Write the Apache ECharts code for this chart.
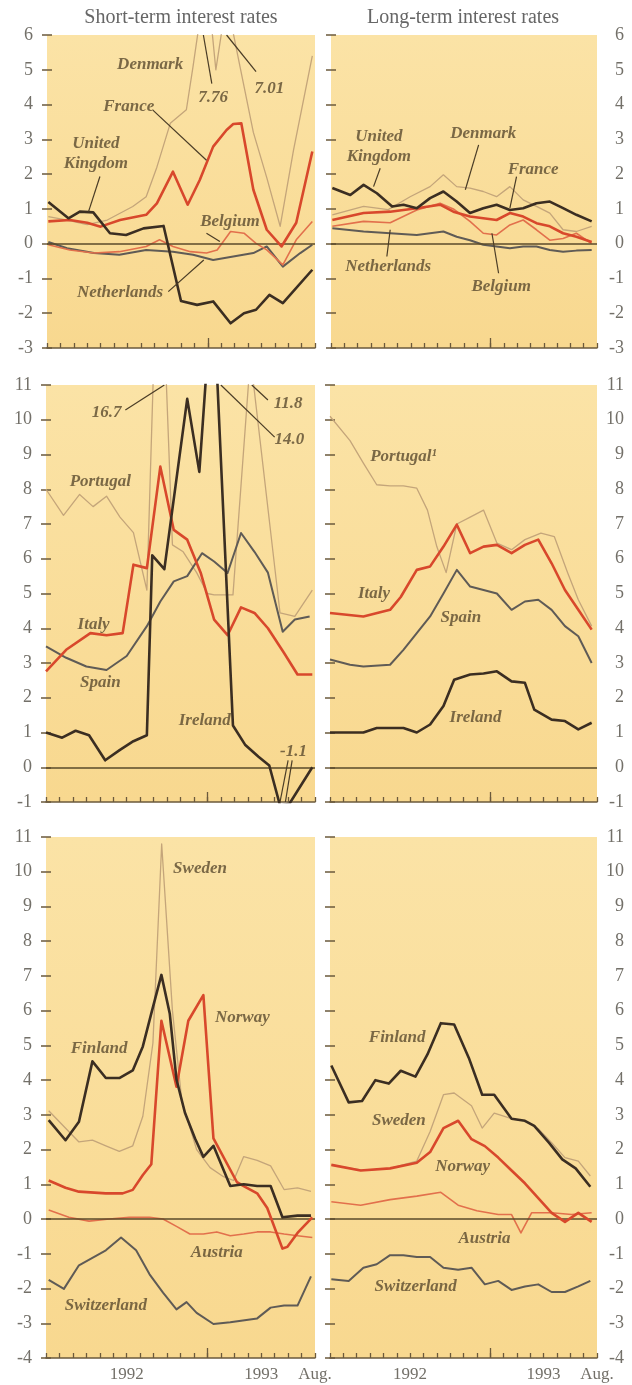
<!DOCTYPE html>
<html>
<head>
<meta charset="utf-8">
<script src="https://cdn.jsdelivr.net/npm/echarts@6/dist/echarts.min.js"></script>
<style>
html,body{margin:0;padding:0;background:#fff;}
#chart{width:632px;height:1385px;}
</style>
</head>
<body>
<div id="chart"></div>
<script>
// ---------- DATA (x = months since Jan 1992, 0..20 = Aug 1993) ----------
const xTickLabels = {6: '1992', 16: '1993', 20: 'Aug.'};
const panelTitles = ['Short-term interest rates', 'Long-term interest rates'];
const yRanges = [[-3, 6], [-3, 6], [-1, 11], [-1, 11], [-4, 11], [-4, 11]];

// Panel 1: short-term, group A
const p1_denmark_x = [0.1,1.5,3,4.5,6.4,7.4,8.2,9.2,10.4,10.9,11.9,12.6,13.4,14.4,15.4,16.4,17.4,18.4,19.8];
const p1_denmark_y = [0.78,0.68,0.55,0.68,1.07,1.35,2.2,3.46,3.85,5.1,7.76,5.0,7.01,5.1,3.2,1.9,0.5,2.7,5.4];
const p1_netherlands_x = [0.1,1.5,3.5,5.4,7.4,9.4,10.9,12.4,13.9,15.4,16.4,17.6,18.9,19.8];
const p1_netherlands_y = [0.05,-0.13,-0.27,-0.32,-0.18,-0.23,-0.32,-0.47,-0.37,-0.27,-0.08,-0.66,-0.27,-0.03];
const p1_belgium_x = [0.1,1.7,3.5,5.4,7.4,8.4,9.4,10.7,11.9,12.7,13.7,14.7,15.6,16.4,17.6,18.6,19.8];
const p1_belgium_y = [-0.03,-0.18,-0.27,-0.23,-0.08,0.11,-0.08,-0.23,-0.27,-0.18,0.35,0.3,0.01,-0.18,-0.61,0.11,0.64];
const p1_france_x = [0.1,1.7,3,4,5.45,7.4,8.2,9.4,10.5,11.4,12.4,13.4,13.9,14.5,15.4,16.4,17.5,18.6,19.8];
const p1_france_y = [0.64,0.68,0.6,0.49,0.68,0.83,1.16,2.07,1.12,1.83,2.79,3.27,3.44,3.46,1.55,0.4,-0.08,0.6,2.65];
const p1_uk_x = [0.1,1.6,2.45,3.45,4.7,5.9,7.2,8.7,10.0,11.2,12.4,13.7,14.7,15.6,16.6,17.6,19.8];
const p1_uk_y = [1.2,0.73,0.92,0.9,0.3,0.25,0.44,0.51,-1.65,-1.76,-1.66,-2.29,-2.0,-1.9,-1.47,-1.71,-0.75];

// Panel 2: long-term, group A
const p2_denmark_x = [0.1,2.45,4.3,5.95,7.45,8.45,9.45,10.45,11.45,12.45,13.45,14.45,15.45,16.45,17.45,18.45,19.6];
const p2_denmark_y = [0.83,1.07,0.98,1.35,1.64,1.98,1.64,1.6,1.5,1.35,1.64,1.26,1.07,0.88,0.4,0.35,0.5];
const p2_netherlands_x = [0.1,2.45,4.45,6.45,8.45,9.45,10.45,11.45,12.45,13.45,14.45,15.45,16.45,17.45,18.45,19.6];
const p2_netherlands_y = [0.44,0.35,0.3,0.25,0.35,0.2,0.1,-0.03,-0.08,-0.13,-0.08,-0.08,-0.18,-0.23,-0.2,-0.18];
const p2_belgium_x = [0.1,2.45,4.45,6.45,8.2,9.2,10.45,11.45,12.45,13.45,14.45,15.45,16.45,17.45,18.45,19.6];
const p2_belgium_y = [0.5,0.64,0.6,0.97,1.16,1.0,0.64,0.3,0.25,0.54,0.68,0.4,0.1,0.15,0.3,0.0];
const p2_france_x = [0.1,2.45,4.45,6.45,8.2,9.2,10.45,11.45,12.45,13.45,14.45,15.45,16.45,17.45,18.45,19.6];
const p2_france_y = [0.68,0.88,0.92,1.02,1.12,0.92,0.78,0.73,0.68,0.88,0.78,0.59,0.5,0.3,0.2,0.05];
const p2_uk_x = [0.1,1.45,2.45,3.45,4.6,5.45,6.45,7.45,8.45,9.45,10.45,11.45,12.45,13.45,14.45,15.45,16.45,17.45,18.45,19.6];
const p2_uk_y = [1.6,1.4,1.69,1.45,1.07,1.12,1.02,1.31,1.5,1.21,0.88,1.02,1.12,0.97,1.02,1.16,1.21,1.02,0.83,0.64];

// Panel 3: short-term, group B
const p3_portugal_x = [0,1.3,2.5,3.5,4.5,5.5,6.5,7.5,8.4,9.4,10.2,11.2,12.0,12.5,13.9,15.2,17.4,18.5,19.8];
const p3_portugal_y = [8.0,7.25,7.85,7.5,7.8,7.2,6.75,5.1,16.7,6.4,6.2,5.6,5.0,4.96,4.96,11.8,4.44,4.34,5.1];
const p3_spain_x = [0,1.5,3,4.5,6,7.5,8.5,9.5,10.5,11.6,12.5,13.5,14.5,15.5,16.5,17.6,18.5,19.6];
const p3_spain_y = [3.48,3.15,2.9,2.8,3.2,4.06,4.77,5.35,5.5,6.16,5.92,5.59,6.74,6.2,5.6,3.9,4.25,4.34];
const p3_italy_x = [0,1.5,3.3,4.5,5.7,6.5,7.5,8.5,9.5,10.5,11.5,12.5,13.5,14.5,15.5,16.5,17.7,18.7,19.8];
const p3_italy_y = [2.76,3.38,3.86,3.8,3.86,5.83,5.73,8.65,6.83,6.55,5.6,4.25,3.8,4.6,4.44,4.0,3.29,2.67,2.67];
const p3_ireland_x = [0,1.2,2.2,3.2,4.4,5.5,6.5,7.5,7.9,8.8,10.5,11.4,12.4,13.9,14.8,15.8,16.6,17.4,18.1,19.8];
const p3_ireland_y = [1.0,0.85,1.05,0.92,0.2,0.5,0.75,0.92,6.1,5.7,10.6,8.5,14.0,1.2,0.65,0.3,0.05,-1.1,-1.05,0.0];

// Panel 4: long-term, group B
const p4_portugal_x = [0,1.5,2.5,3.5,4.5,5.5,6.5,7.3,8.0,8.7,9.5,10.5,11.5,12.5,13.6,14.6,15.8,16.8,17.8,18.6,19.6];
const p4_portugal_y = [10.1,9.4,8.75,8.13,8.1,8.1,8.03,7.4,6.35,5.6,7.0,7.2,7.4,6.45,6.26,6.55,6.74,6.64,5.6,4.82,4.06];
const p4_spain_x = [0,1.5,2.5,4.5,5.5,6.5,7.5,8.5,9.5,10.5,11.5,12.5,13.6,14.6,15.6,16.6,17.6,18.6,19.6];
const p4_spain_y = [3.1,2.95,2.9,2.95,3.38,3.86,4.34,5.0,5.68,5.2,5.1,5.0,4.53,4.77,4.82,4.53,4.06,3.77,3.0];
const p4_italy_x = [0,2.5,4.5,5.3,6.5,7.5,8.5,9.5,10.5,11.5,12.5,13.6,14.6,15.6,16.6,17.6,18.6,19.6];
const p4_italy_y = [4.44,4.34,4.53,4.9,5.68,5.78,6.35,6.98,6.16,6.35,6.4,6.16,6.4,6.55,5.87,5.1,4.53,3.96];
const p4_ireland_x = [0,2.5,3.5,5.5,6.5,7.5,8.5,9.3,10.5,11.5,12.5,13.6,14.6,15.3,16.6,17.6,18.6,19.6];
const p4_ireland_y = [1.0,1.0,1.13,1.13,1.0,1.23,1.76,2.52,2.67,2.7,2.76,2.47,2.43,1.66,1.37,1.33,1.09,1.28];

// Panel 5: short-term, group C
const p5_sweden_x = [0.2,2.45,3.45,4.45,5.45,6.45,7.2,7.95,8.6,9.4,10.1,11.2,12.2,13.2,13.95,14.7,15.7,16.7,17.7,18.7,19.7];
const p5_sweden_y = [3.12,2.22,2.27,2.11,1.95,2.11,2.96,5.07,10.8,6.0,3.4,2.0,1.48,1.22,1.11,1.8,1.69,1.53,0.85,0.9,0.8];
const p5_switzerland_x = [0.2,1.33,2.45,3.45,4.45,5.58,6.7,7.7,8.7,9.7,10.45,11.2,12.45,13.7,15.7,16.7,17.7,18.7,19.7];
const p5_switzerland_y = [-1.75,-2.01,-1.33,-1.12,-0.9,-0.53,-0.9,-1.59,-2.12,-2.6,-2.39,-2.7,-3.02,-2.97,-2.86,-2.55,-2.49,-2.49,-1.65];
const p5_austria_x = [0.2,1.7,3.2,4.7,6.2,7.7,8.7,9.7,10.7,11.7,12.7,13.7,14.7,15.7,16.7,17.7,18.7,19.8];
const p5_austria_y = [0.26,0.05,-0.06,0.0,0.05,0.05,0.0,-0.21,-0.43,-0.43,-0.37,-0.48,-0.43,-0.37,-0.37,-0.43,-0.48,-0.53];
const p5_norway_x = [0.2,1.45,2.45,4.45,5.7,6.45,7.2,7.83,8.58,9.7,10.58,11.7,12.45,14.2,14.7,15.7,16.45,17.58,17.95,18.7,19.8];
const p5_norway_y = [1.11,0.9,0.79,0.74,0.74,0.84,1.27,1.58,5.71,3.81,5.71,6.45,2.32,1.06,0.95,0.74,0.32,-0.85,-0.8,-0.4,0.05];
const p5_finland_x = [0.2,1.45,2.45,3.45,4.45,5.45,6.45,7.2,7.83,8.58,9.2,9.7,10.33,11.08,11.7,12.45,13.7,14.7,15.7,16.7,17.58,18.7,19.7];
const p5_finland_y = [2.85,2.27,2.8,4.54,4.06,4.06,4.28,4.97,5.92,7.03,5.92,4.02,3.06,2.32,1.79,2.11,0.95,1.0,0.95,0.95,0.05,0.1,0.1];

// Panel 6: long-term, group C
const p6_sweden_x = [0.1,2.5,4.5,6.5,7.5,8.5,9.3,10.6,11.4,12.3,13.6,14.6,15.6,16.6,17.6,18.6,19.5];
const p6_sweden_y = [1.56,1.4,1.46,1.67,2.52,3.58,3.63,3.26,2.62,3.05,2.89,2.83,2.6,2.2,1.77,1.67,1.24];
const p6_switzerland_x = [0.1,1.4,2.5,3.5,4.5,5.5,6.5,7.5,8.5,9.6,10.6,11.6,12.6,13.6,14.6,15.6,16.6,17.6,18.6,19.5];
const p6_switzerland_y = [-1.73,-1.78,-1.4,-1.3,-1.04,-1.04,-1.09,-1.09,-1.4,-1.46,-1.4,-1.88,-1.78,-2.04,-1.94,-1.88,-2.1,-2.1,-1.94,-1.78];
const p6_austria_x = [0.1,2.3,4.5,6.5,8.3,9.6,11,12.6,13.6,14.3,15.1,16.6,18.1,19.6];
const p6_austria_y = [0.5,0.4,0.56,0.66,0.77,0.4,0.24,0.13,0.13,-0.4,0.18,0.18,0.13,0.18];
const p6_norway_x = [0.1,2.3,4.5,6.5,7.5,8.5,9.6,10.6,11.6,12.6,13.6,14.6,15.6,16.6,17.6,18.6,19.6];
const p6_norway_y = [1.56,1.4,1.46,1.62,1.93,2.62,2.83,2.3,2.1,1.77,1.4,1.03,0.6,0.18,-0.08,0.18,-0.08];
const p6_finland_x = [0.1,1.4,2.4,3.4,4.4,5.3,6.4,7.3,8.3,9.3,10.4,11.4,12.3,13.6,14.6,15.3,16.4,17.4,18.4,19.5];
const p6_finland_y = [4.42,3.36,3.4,4.0,3.9,4.27,4.1,4.74,5.64,5.6,4.64,3.58,3.58,2.89,2.83,2.68,2.2,1.72,1.46,0.93];

// Annotation labels: [text, month, value]
const p1_labels = [['Denmark',7.7,5.14],['7.76',12.4,4.2],['7.01',16.6,4.47],['France',6.1,3.94],['United\nKingdom',3.65,2.6],['Belgium',13.65,0.64],['Netherlands',5.45,-1.42]];
const p2_labels = [['United\nKingdom',3.6,2.8],['Denmark',11.45,3.17],['France',15.2,2.12],['Netherlands',4.3,-0.66],['Belgium',12.8,-1.23]];
const p3_labels = [['Portugal',4.04,8.22],['16.7',4.5,10.2],['11.8',18.0,10.47],['14.0',18.1,9.42],['Italy',3.54,4.1],['Spain',4.04,2.43],['Ireland',11.8,1.33],['-1.1',18.4,0.45]];
const p4_labels = [['Portugal\u00b9',5.5,8.94],['Italy',3.3,5.0],['Spain',9.8,4.3],['Ireland',10.9,1.42]];
const p5_labels = [['Sweden',11.45,10.1],['Norway',14.6,5.81],['Finland',3.95,4.92],['Austria',12.7,-0.96],['Switzerland',4.45,-2.49]];
const p6_labels = [['Finland',5.03,5.22],['Sweden',5.16,2.83],['Norway',9.94,1.51],['Austria',11.57,-0.56],['Switzerland',6.42,-1.94]];

// Leader lines: [m1, v1, m2, v2]
const p1_leaders = [[11.67,6,12.3,4.6],[13.4,6,15.6,4.95],[7.9,3.84,11.9,2.4],[3.95,1.93,3.1,0.92],[11.9,0.3,12.9,0.06],[9.05,-1.38,11.7,-0.47]];
const p2_leaders = [[3.7,2.17,3.2,1.64],[11.1,2.84,10.1,1.55],[13.95,1.93,13.45,1.02],[4.2,-0.37,4.45,0.4],[12.6,-0.85,12.1,0.3]];
const p3_leaders = [[5.9,10.28,8.8,11],[16.5,10.57,15.3,11],[17.0,9.5,13.0,11],[18.0,0.2,17.4,-1],[18.3,0.2,17.8,-1]];
const p4_leaders = [];
const p5_leaders = [];
const p6_leaders = [];

// ---------- STYLE / LAYOUT ----------
const FONT = "'Liberation Serif','DejaVu Serif',serif";
const C = {
  dark: '#3b2e22', red: '#d8482c', redThin: '#e2704c', gray: '#5f5b56', light: '#c4a57a',
  label: '#5a4a2e', tick: '#6b5a3c', axisText: '#737069'
};
const ST = {
  dark: {color: C.dark, width: 2.6, z: 6},
  red: {color: C.red, width: 2.6, z: 5},
  redThin: {color: C.redThin, width: 1.6, z: 4},
  gray: {color: C.gray, width: 2.0, z: 3},
  light: {color: C.light, width: 1.3, z: 2}
};
const GRIDS = [
  {left: 47, top: 35, width: 268, height: 313},
  {left: 331, top: 35, width: 266, height: 313},
  {left: 46, top: 385, width: 269, height: 417},
  {left: 330, top: 385, width: 267, height: 417},
  {left: 46, top: 837, width: 269, height: 521},
  {left: 330, top: 837, width: 267, height: 521}
];

const panels = [
  {series: [[p1_denmark_x,p1_denmark_y,'light'],[p1_netherlands_x,p1_netherlands_y,'gray'],[p1_belgium_x,p1_belgium_y,'redThin'],[p1_france_x,p1_france_y,'red'],[p1_uk_x,p1_uk_y,'dark']], labels: p1_labels, leaders: p1_leaders},
  {series: [[p2_denmark_x,p2_denmark_y,'light'],[p2_netherlands_x,p2_netherlands_y,'gray'],[p2_belgium_x,p2_belgium_y,'redThin'],[p2_france_x,p2_france_y,'red'],[p2_uk_x,p2_uk_y,'dark']], labels: p2_labels, leaders: p2_leaders},
  {series: [[p3_portugal_x,p3_portugal_y,'light'],[p3_spain_x,p3_spain_y,'gray'],[p3_italy_x,p3_italy_y,'red'],[p3_ireland_x,p3_ireland_y,'dark']], labels: p3_labels, leaders: p3_leaders},
  {series: [[p4_portugal_x,p4_portugal_y,'light'],[p4_spain_x,p4_spain_y,'gray'],[p4_italy_x,p4_italy_y,'red'],[p4_ireland_x,p4_ireland_y,'dark']], labels: p4_labels, leaders: p4_leaders},
  {series: [[p5_sweden_x,p5_sweden_y,'light'],[p5_switzerland_x,p5_switzerland_y,'gray'],[p5_austria_x,p5_austria_y,'redThin'],[p5_norway_x,p5_norway_y,'red'],[p5_finland_x,p5_finland_y,'dark']], labels: p5_labels, leaders: p5_leaders},
  {series: [[p6_sweden_x,p6_sweden_y,'light'],[p6_switzerland_x,p6_switzerland_y,'gray'],[p6_austria_x,p6_austria_y,'redThin'],[p6_norway_x,p6_norway_y,'red'],[p6_finland_x,p6_finland_y,'dark']], labels: p6_labels, leaders: p6_leaders}
];

const bg = {type: 'linear', x: 0, y: 0, x2: 0, y2: 1, colorStops: [{offset: 0, color: '#fbe3a6'}, {offset: 1, color: '#f8d88f'}]};

const grid = [], xAxis = [], yAxis = [], series = [];
GRIDS.forEach((g, i) => {
  grid.push(Object.assign({show: true, backgroundColor: bg, borderWidth: 0}, g));
  const isLeft = i % 2 === 0;
  const isBottom = i >= 4;
  xAxis.push({
    type: 'value', gridIndex: i, min: 0, max: 20, interval: 1, position: 'bottom',
    axisLine: {show: true, onZero: false, lineStyle: {color: C.tick, width: 1.5}},
    axisTick: {show: true, inside: true, length: 5, lineStyle: {color: C.tick, width: 1.3}},
    splitLine: {show: false},
    axisLabel: {show: isBottom, margin: 8, color: C.axisText, fontFamily: FONT, fontSize: 17,
      showMinLabel: true, showMaxLabel: true,
      formatter: v => xTickLabels[v] || ''}
  });
  xAxis.push({
    type: 'value', gridIndex: i, min: 0, max: 20, position: 'bottom',
    axisLine: {show: false, onZero: false},
    axisTick: {show: true, inside: true, length: 10, customValues: [12], lineStyle: {color: C.tick, width: 1.3}},
    axisLabel: {show: false}, splitLine: {show: false}
  });
  const [ymin, ymax] = yRanges[i];
  ['left', 'right'].forEach(pos => {
    const showLab = (pos === 'left') === isLeft;
    yAxis.push({
      type: 'value', gridIndex: i, min: ymin, max: ymax, interval: 1, position: pos,
      axisLine: {show: false},
      axisTick: {show: true, inside: true, length: 5, lineStyle: {color: C.tick, width: 1.5}},
      splitLine: {show: false},
      axisLabel: {show: showLab, margin: pos === 'left' ? 14 : 27, align: 'right',
        color: C.axisText, fontFamily: FONT, fontSize: 18}
    });
  });

  const p = panels[i];
  p.series.forEach(([xs, ys, st], k) => {
    const s = ST[st];
    const ser = {
      type: 'line', xAxisIndex: 2 * i, yAxisIndex: 2 * i,
      data: xs.map((x, j) => [x, ys[j]]),
      showSymbol: false, symbol: 'none', clip: true, z: s.z,
      lineStyle: {color: s.color, width: s.width, join: 'round'},
      animation: false, silent: true
    };
    if (k === 0) {
      ser.markLine = {
        silent: true, symbol: 'none', animation: false,
        label: {show: false},
        lineStyle: {color: '#5a4a2a', width: 1.6, type: 'solid'},
        data: [{yAxis: 0}]
      };
    }
    series.push(ser);
  });
  if (p.leaders.length) {
    series.push({
      type: 'lines', coordinateSystem: 'cartesian2d', xAxisIndex: 2 * i, yAxisIndex: 2 * i,
      polyline: false, silent: true, animation: false, z: 7,
      lineStyle: {color: '#4a3c26', width: 1.2, opacity: 1},
      data: p.leaders.map(l => ({coords: [[l[0], l[1]], [l[2], l[3]]]}))
    });
  }
  series.push({
    type: 'scatter', xAxisIndex: 2 * i, yAxisIndex: 2 * i, symbolSize: 0, silent: true, animation: false, z: 8,
    data: p.labels.map(l => ({name: l[0], value: [l[1], l[2]]})),
    label: {show: true, position: 'inside', formatter: '{b}', color: C.label, fontFamily: FONT,
      fontStyle: 'italic', fontWeight: 'bold', fontSize: 17, lineHeight: 20, align: 'center', verticalAlign: 'middle'}
  });
});

const chart = echarts.init(document.getElementById('chart'), null, {renderer: 'canvas'});
chart.setOption({
  animation: false,
  backgroundColor: '#ffffff',
  graphic: [
    {type: 'text', x: 181, y: 18, style: {text: panelTitles[0], font: "20px " + FONT, fill: '#666', align: 'center', verticalAlign: 'middle'}},
    {type: 'text', x: 463, y: 18, style: {text: panelTitles[1], font: "20px " + FONT, fill: '#666', align: 'center', verticalAlign: 'middle'}}
  ],
  grid, xAxis, yAxis, series
});
</script>
</body>
</html>
